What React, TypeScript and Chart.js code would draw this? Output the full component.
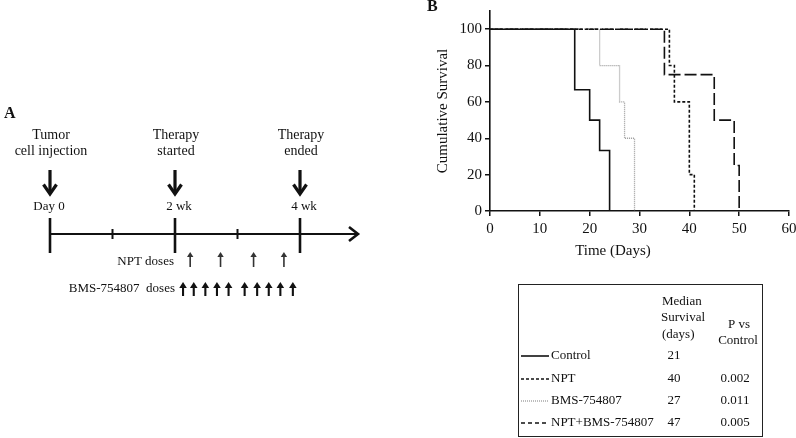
import React, { useEffect, useRef } from "react";
import { Chart, registerables } from "chart.js";
Chart.register(...registerables);

// ---- Panel B: Kaplan-Meier survival data ----
const controlDays = [0, 17, 20, 22, 24];
const controlSurvival = [100, 66.7, 50, 33.3, 0];
const nptDays = [0, 36, 37, 40, 41];
const nptSurvival = [100, 80, 60, 20, 0];
const bmsDays = [0, 22, 26, 27, 29];
const bmsSurvival = [100, 80, 60, 40, 0];
const comboDays = [0, 35, 45, 49, 50];
const comboSurvival = [100, 75, 50, 25, 0];

// ---- Summary table ----
const groupNames = ["Control", "NPT", "BMS-754807", "NPT+BMS-754807"];
const medianSurvival = ["21", "40", "27", "47"];
const pVsControl = ["", "0.002", "0.011", "0.005"];

// ---- Panel A: treatment schedule (days) ----
const eventTitles = [["Tumor", "cell injection"], ["Therapy", "started"], ["Therapy", "ended"]];
const eventDays = [0, 14, 28];
const eventLabels = ["Day 0", "2 wk", "4 wk"];
const minorTickDays = [7, 21];
const nptDoseDays = [15.7, 19.1, 22.8, 26.2];
const bmsDoseDays = [14.9, 16.1, 17.4, 18.7, 20.0, 21.8, 23.2, 24.5, 25.8, 27.2];

const serif = '"Liberation Serif", "Times New Roman", serif';
const INK = "#111";

const styles = [
  { color: INK, dash: [] as number[], width: 1.6 },
  { color: INK, dash: [3, 2], width: 1.6 },
  { color: "#9a9a9a", dash: [1, 1], width: 1.3 },
  { color: INK, dash: [12, 4], width: 1.6 },
];

function pts(days: number[], surv: number[]) {
  return days.map((d, i) => ({ x: d, y: surv[i] }));
}

const decorPlugin = {
  id: "decor",
  afterDraw(chart: any) {
    const ctx: CanvasRenderingContext2D = chart.ctx;
    ctx.save();
    ctx.fillStyle = INK;
    ctx.strokeStyle = INK;
    ctx.lineCap = "butt";

    // Panel letters
    ctx.font = `bold 16px ${serif}`;
    ctx.textAlign = "left";
    ctx.textBaseline = "middle";
    ctx.fillText("B", 427, 7);
    ctx.fillText("A", 4, 114);

    // x axis title (offset as in reference)
    ctx.font = `15px ${serif}`;
    ctx.textAlign = "center";
    ctx.fillText("Time (Days)", 613, 251);

    // ---- Panel A ----
    const dayX = (d: number) => 50 + d * (125 / 14);
    const lineY = 234;
    ctx.font = `14px ${serif}`;
    eventDays.forEach((d, i) => {
      const x = dayX(d);
      ctx.textAlign = "center";
      ctx.fillText(eventTitles[i][0], x + 1, 135);
      ctx.fillText(eventTitles[i][1], x + 1, 151);
      // down arrow
      ctx.lineWidth = 3.2;
      ctx.beginPath();
      ctx.moveTo(x, 170);
      ctx.lineTo(x, 194);
      ctx.stroke();
      ctx.beginPath();
      ctx.moveTo(x - 6.5, 184.5);
      ctx.lineTo(x, 194);
      ctx.lineTo(x + 6.5, 184.5);
      ctx.stroke();
      ctx.font = `13px ${serif}`;
      ctx.fillText(eventLabels[i], x + (i === 0 ? -1 : 4), 207);
      ctx.font = `14px ${serif}`;
      // major tick
      ctx.lineWidth = 2.6;
      ctx.beginPath();
      ctx.moveTo(x, 218);
      ctx.lineTo(x, 253);
      ctx.stroke();
    });
    // timeline
    ctx.lineWidth = 2;
    ctx.beginPath();
    ctx.moveTo(50, lineY);
    ctx.lineTo(357, lineY);
    ctx.stroke();
    ctx.lineWidth = 2.6;
    ctx.beginPath();
    ctx.moveTo(349, lineY - 7);
    ctx.lineTo(358, lineY);
    ctx.lineTo(349, lineY + 7);
    ctx.stroke();
    minorTickDays.forEach((d) => {
      const x = dayX(d);
      ctx.lineWidth = 2;
      ctx.beginPath();
      ctx.moveTo(x, lineY - 5);
      ctx.lineTo(x, lineY + 5);
      ctx.stroke();
    });

    // dose labels
    ctx.font = `13px ${serif}`;
    ctx.textAlign = "right";
    ctx.fillText("NPT doses", 174, 262);
    ctx.fillText("BMS-754807  doses", 175, 289);

    const upArrow = (x: number, top: number, bottom: number, head: number, hw: number, w: number, col: string) => {
      ctx.strokeStyle = col;
      ctx.fillStyle = col;
      ctx.lineWidth = w;
      ctx.beginPath();
      ctx.moveTo(x, bottom);
      ctx.lineTo(x, top + head - 1);
      ctx.stroke();
      ctx.beginPath();
      ctx.moveTo(x, top);
      ctx.lineTo(x - hw, top + head);
      ctx.lineTo(x + hw, top + head);
      ctx.closePath();
      ctx.fill();
    };
    nptDoseDays.forEach((d) => upArrow(dayX(d), 252, 267, 5, 3.2, 1.6, "#333"));
    bmsDoseDays.forEach((d) => upArrow(dayX(d), 282, 296, 6, 3.8, 2.1, INK));

    // ---- Summary table ----
    ctx.strokeStyle = "#222";
    ctx.fillStyle = INK;
    ctx.lineWidth = 1;
    ctx.strokeRect(518.5, 284.5, 244, 152);
    ctx.font = `13px ${serif}`;
    ctx.textAlign = "left";
    ctx.fillText("Median", 662, 302);
    ctx.fillText("Survival", 661, 318);
    ctx.fillText("(days)", 662, 335);
    ctx.textAlign = "center";
    ctx.fillText("P vs", 739, 325);
    ctx.fillText("Control", 738, 341);
    const rowY = [356, 379, 401, 423];
    groupNames.forEach((name, i) => {
      const y = rowY[i];
      const st = styles[i];
      ctx.strokeStyle = st.color;
      ctx.lineWidth = st.width;
      ctx.setLineDash(i === 3 ? [4, 3] : st.dash);
      ctx.beginPath();
      ctx.moveTo(521, y);
      ctx.lineTo(549, y);
      ctx.stroke();
      ctx.setLineDash([]);
      ctx.fillStyle = INK;
      ctx.textAlign = "left";
      ctx.fillText(name, 551, y);
      ctx.textAlign = "center";
      ctx.fillText(medianSurvival[i], 674, y);
      if (pVsControl[i]) ctx.fillText(pVsControl[i], 735, y);
    });
    ctx.restore();
  },
};

export default function App() {
  const ref = useRef<HTMLCanvasElement | null>(null);
  useEffect(() => {
    if (!ref.current) return;
    const series = [
      pts(controlDays, controlSurvival),
      pts(nptDays, nptSurvival),
      pts(bmsDays, bmsSurvival),
      pts(comboDays, comboSurvival),
    ];
    const chart = new Chart(ref.current, {
      type: "line",
      data: {
        datasets: series.map((data, i) => ({
          label: groupNames[i],
          data,
          stepped: true,
          borderColor: styles[i].color,
          borderWidth: styles[i].width,
          borderDash: styles[i].dash,
          pointRadius: 0,
          fill: false,
        })),
      },
      options: {
        responsive: false,
        animation: false,
        devicePixelRatio: 1,
        layout: { padding: { left: 430, top: 11, right: 7, bottom: 187 } },
        plugins: { legend: { display: false }, tooltip: { enabled: false } },
        scales: {
          x: {
            type: "linear",
            min: 0,
            max: 60,
            ticks: { stepSize: 10, color: INK, font: { family: serif, size: 15 }, padding: 4 },
            grid: { drawOnChartArea: false, drawTicks: true, tickLength: 5, color: INK, lineWidth: 1.5 },
            border: { color: INK, width: 1.6 },
            afterFit: (s: any) => {
              s.height = 40;
              s.paddingLeft = 0;
              s.paddingRight = 0;
            },
          },
          y: {
            type: "linear",
            min: 0,
            max: 110,
            afterBuildTicks: (s: any) => {
              s.ticks = s.ticks.filter((t: any) => t.value <= 100);
            },
            ticks: { stepSize: 20, color: INK, font: { family: serif, size: 15 }, padding: 3 },
            grid: { drawOnChartArea: false, drawTicks: true, tickLength: 5, color: INK, lineWidth: 1.5 },
            border: { color: INK, width: 1.6 },
            title: {
              display: true,
              text: "Cumulative Survival",
              color: INK,
              font: { family: serif, size: 15 },
              padding: { top: 4, bottom: 4 },
            },
            afterFit: (s: any) => {
              s.width = 60;
              s.paddingTop = 0;
              s.paddingBottom = 0;
            },
          },
        },
      },
      plugins: [decorPlugin],
    } as any);
    return () => chart.destroy();
  }, []);
  return (
    <canvas
      ref={ref}
      width={796}
      height={438}
      style={{ position: "fixed", left: 0, top: 0, width: 796, height: 438, background: "#fff" }}
    />
  );
}
